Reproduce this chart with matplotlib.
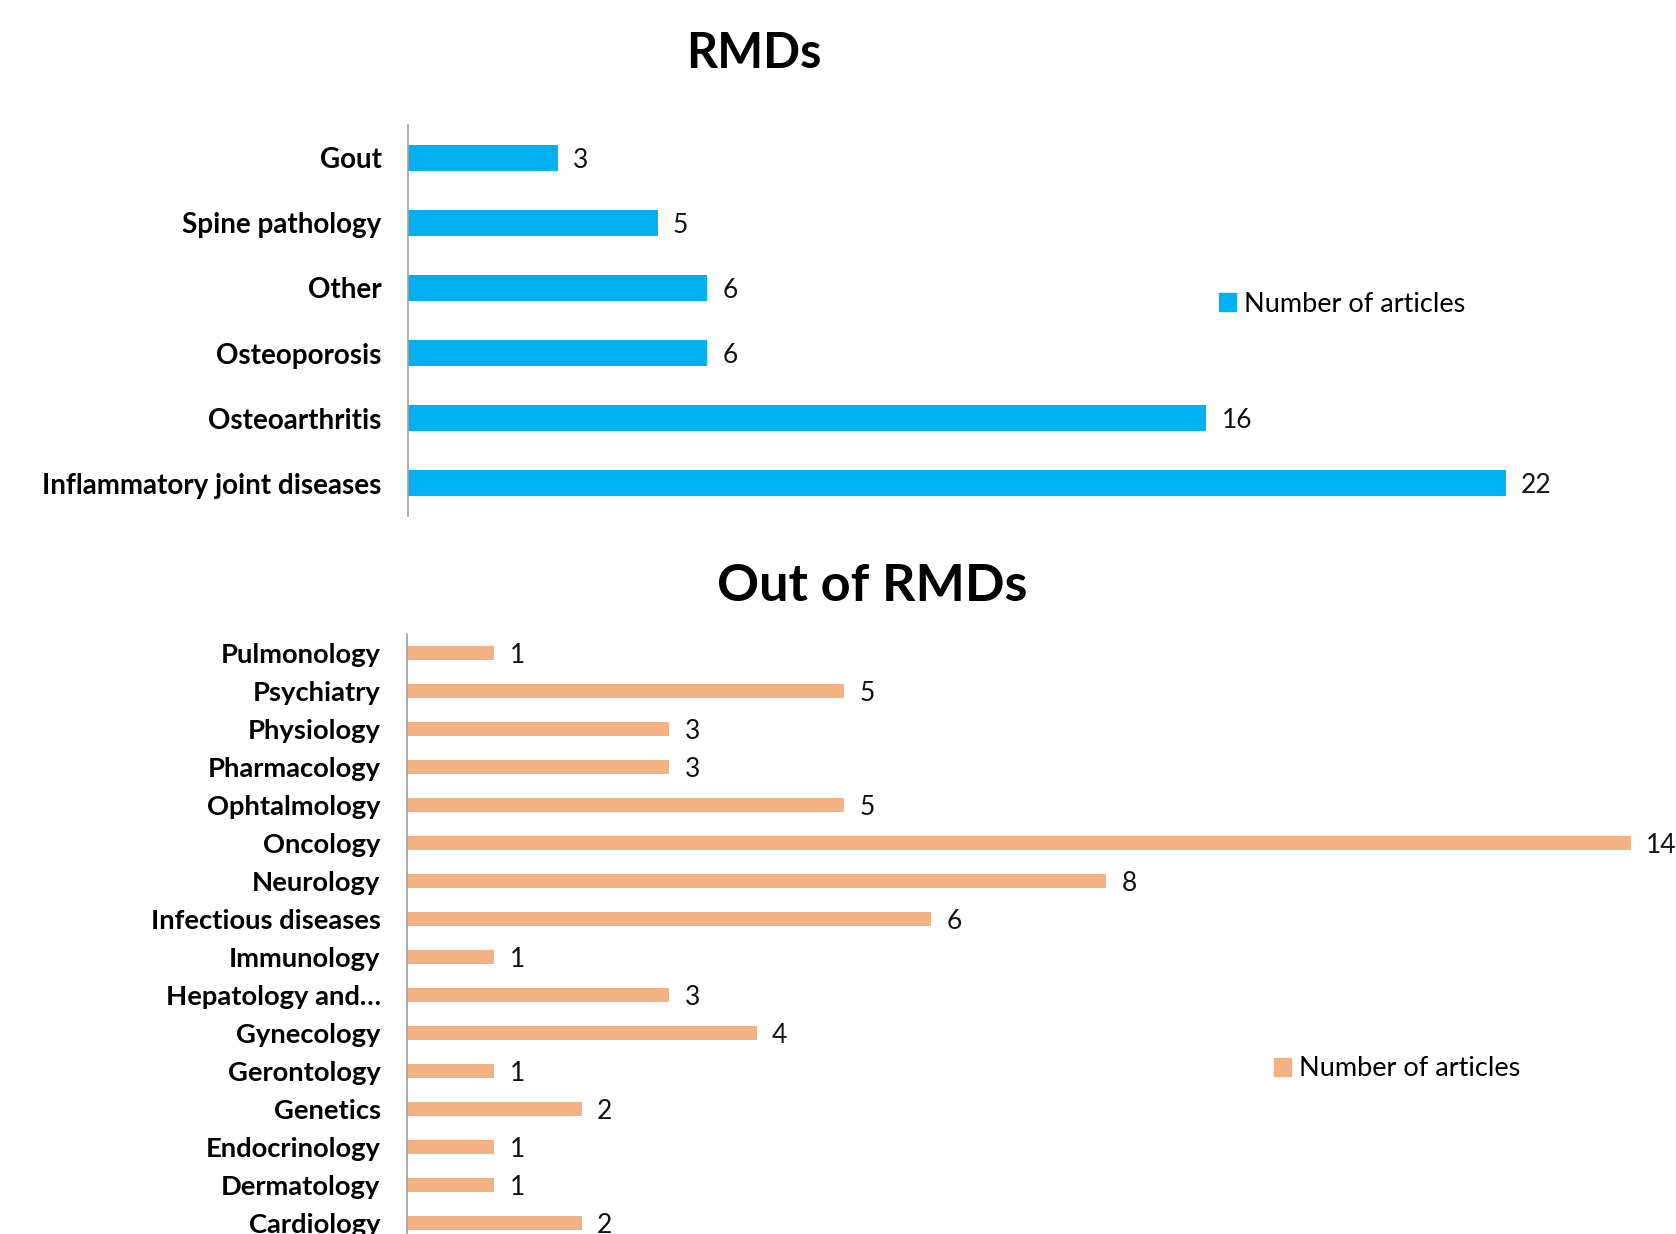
import matplotlib
matplotlib.use("Agg")
import matplotlib.pyplot as plt
from matplotlib.patches import Patch

plt.rcParams['font.family'] = ['Lato', 'DejaVu Sans']

# Rheumatic and musculoskeletal diseases (top to bottom)
rmd_categories = ["Gout", "Spine pathology", "Other", "Osteoporosis",
                  "Osteoarthritis", "Inflammatory joint diseases"]
rmd_counts = [3, 5, 6, 6, 16, 22]

# Other specialties (top to bottom)
other_categories = ["Pulmonology", "Psychiatry", "Physiology", "Pharmacology",
                    "Ophtalmology", "Oncology", "Neurology", "Infectious diseases",
                    "Immunology", "Hepatology and…", "Gynecology", "Gerontology",
                    "Genetics", "Endocrinology", "Dermatology", "Cardiology"]
other_counts = [1, 5, 3, 3, 5, 14, 8, 6, 1, 3, 4, 1, 2, 1, 1, 2]

legend_label = "Number of articles"
blue = "#00B0F0"
orange = "#F4B183"

W, H = 1676, 1234
fig = plt.figure(figsize=(W / 100, H / 100), dpi=100)


def axes_px(left, top, right, bottom):
    return fig.add_axes([left / W, 1 - bottom / H, (right - left) / W, (bottom - top) / H])


def draw(ax, cats, vals, color, bar_h, label_fs, value_fs, xmax):
    y = list(range(len(cats)))
    ax.barh(y, vals, height=bar_h, color=color)
    ax.set_ylim(len(cats) - 0.5, -0.5)
    ax.set_xlim(0, xmax)
    ax.set_yticks(y)
    ax.set_yticklabels(cats, fontsize=label_fs, fontweight='bold')
    ax.tick_params(axis='y', length=0, pad=19)
    ax.set_xticks([])
    for s in ("top", "right", "bottom"):
        ax.spines[s].set_visible(False)
    ax.spines["left"].set_color("#A0A0A0")
    ax.spines["left"].set_linewidth(1.2)
    for yi, v in zip(y, vals):
        ax.annotate(str(v), (v, yi), xytext=(11, 0), textcoords='offset points',
                    ha='left', va='center_baseline', fontsize=value_fs, color='#111111',
                    annotation_clip=False)


def add_legend(color, x_px, y_px):
    fig.legend(handles=[Patch(color=color, label=legend_label)], loc='center left',
               bbox_to_anchor=(x_px / W, 1 - y_px / H), frameon=False, fontsize=19.5,
               handlelength=0.62, handleheight=0.62, handletextpad=0.3,
               borderpad=0, borderaxespad=0)


ax1 = axes_px(408, 125, 408 + 25 * 49.9, 516)
draw(ax1, rmd_categories, rmd_counts, blue, 0.4, 20, 19, 25)

ax2 = axes_px(407, 634, 407 + 14.5 * 87.4, 1242)
draw(ax2, other_categories, other_counts, orange, 0.37, 19.7, 19, 14.5)

fig.text(754 / W, 1 - 54 / H, "RMDs", ha='center', va='center',
         fontsize=35, fontweight='bold')
fig.text(872 / W, 1 - 587 / H, "Out of RMDs", ha='center', va='center',
         fontsize=37.5, fontweight='bold')

add_legend(blue, 1219, 304)
add_legend(orange, 1274, 1069)

fig.savefig("out.png", dpi=100)
